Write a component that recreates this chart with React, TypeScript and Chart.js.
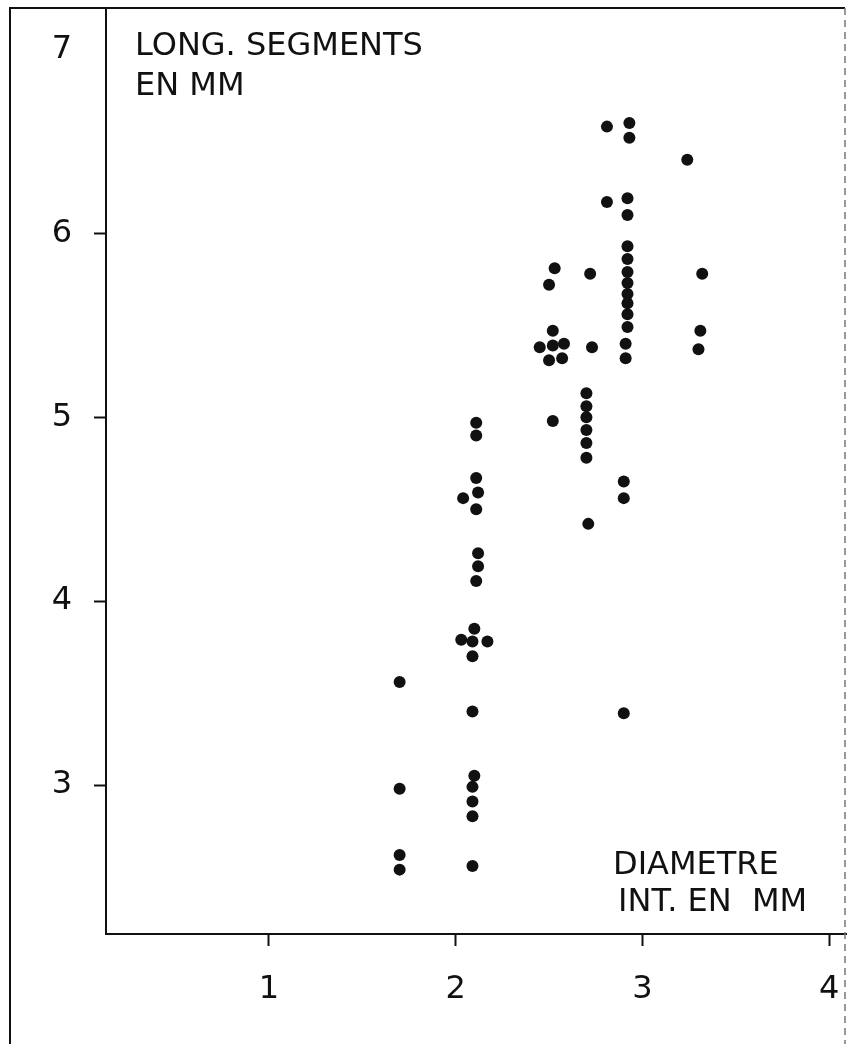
import React, { useEffect, useRef } from "react";
import { Chart, registerables } from "chart.js";

Chart.register(...registerables);

// Diameter intérieur (mm) — x values of the points
const diameterMm = [
  // ~1.7 mm
  1.70, 1.70, 1.70, 1.70,
  // ~2.1 mm
  2.11, 2.11, 2.11, 2.04, 2.12, 2.11, 2.12, 2.12, 2.11, 2.10, 2.03, 2.09, 2.17, 2.09, 2.09, 2.10, 2.09, 2.09, 2.09, 2.09,
  // ~2.5 mm
  2.53, 2.50, 2.52, 2.45, 2.52, 2.58, 2.50, 2.57, 2.52,
  // ~2.7 mm
  2.72, 2.73, 2.70, 2.70, 2.70, 2.70, 2.70, 2.70, 2.71,
  // ~2.8 mm
  2.81, 2.81,
  // ~2.9 mm
  2.93, 2.93, 2.92, 2.92, 2.92, 2.92, 2.92, 2.92, 2.92, 2.92, 2.92, 2.92, 2.91, 2.91, 2.90, 2.90, 2.90,
  // ~3.2-3.3 mm
  3.24, 3.32, 3.31, 3.30,
];

// Longueur des segments (mm) — y values of the points
const segmentLengthMm = [
  3.56, 2.98, 2.62, 2.54,
  4.97, 4.90, 4.67, 4.56, 4.59, 4.50, 4.26, 4.19, 4.11, 3.85, 3.79, 3.78, 3.78, 3.70, 3.40, 3.05, 2.99, 2.91, 2.83, 2.56,
  5.81, 5.72, 5.47, 5.38, 5.39, 5.40, 5.31, 5.32, 4.98,
  5.78, 5.38, 5.13, 5.06, 5.00, 4.93, 4.86, 4.78, 4.42,
  6.58, 6.17,
  6.60, 6.52, 6.19, 6.10, 5.93, 5.86, 5.79, 5.73, 5.67, 5.62, 5.56, 5.49, 5.40, 5.32, 4.65, 4.56, 3.39,
  6.40, 5.78, 5.47, 5.37,
];

const xTickValues = [1, 2, 3, 4];
const yTickValues = [3, 4, 5, 6, 7];
const yTitleLines = ["LONG. SEGMENTS", "EN MM"];
const xTitleLines = ["DIAMETRE", "INT. EN  MM"];

const INK = "#111111";
const FONT = "'DejaVu Sans', 'Liberation Sans', sans-serif";

const framePlugin = {
  id: "framePlugin",
  afterDraw(chart: any) {
    const ctx = chart.ctx as CanvasRenderingContext2D;
    const { top, right, bottom } = chart.chartArea;
    const H = chart.height;
    const W = chart.width;
    const frameRight = W - 2;
    ctx.save();
    ctx.strokeStyle = INK;
    ctx.lineWidth = 2;
    // outer left border
    ctx.beginPath();
    ctx.moveTo(10, 7);
    ctx.lineTo(10, H);
    ctx.stroke();
    // top border
    ctx.beginPath();
    ctx.moveTo(9, top);
    ctx.lineTo(frameRight, top);
    ctx.stroke();
    // x axis line continues to the page edge
    ctx.beginPath();
    ctx.moveTo(right - 1, bottom);
    ctx.lineTo(W, bottom);
    ctx.stroke();
    // right dashed border
    ctx.setLineDash([7, 5]);
    ctx.strokeStyle = "#777777";
    ctx.lineWidth = 1.5;
    ctx.beginPath();
    ctx.moveTo(frameRight, top);
    ctx.lineTo(frameRight, H);
    ctx.stroke();
    ctx.setLineDash([]);

    // titles
    ctx.fillStyle = INK;
    ctx.font = `32px ${FONT}`;
    ctx.textAlign = "left";
    ctx.textBaseline = "alphabetic";
    ctx.fillText(yTitleLines[0], 135, 55);
    ctx.fillText(yTitleLines[1], 135, 95);
    ctx.fillText(xTitleLines[0], 613, 874);
    ctx.fillText(xTitleLines[1], 618, 911);
    ctx.restore();
  },
};

const noPad = (scale: any) => {
  scale.paddingTop = 0;
  scale.paddingBottom = 0;
  scale.paddingLeft = 0;
  scale.paddingRight = 0;
};

export default function App() {
  const canvasRef = useRef<HTMLCanvasElement | null>(null);

  useEffect(() => {
    const canvas = canvasRef.current;
    if (!canvas) return;
    const points = diameterMm.map((x, i) => ({ x, y: segmentLengthMm[i] }));
    const chart = new Chart(canvas, {
      type: "scatter",
      data: {
        datasets: [
          {
            data: points,
            pointRadius: 6,
            pointHoverRadius: 6,
            pointBackgroundColor: INK,
            pointBorderWidth: 0,
            pointBorderColor: INK,
          },
        ],
      },
      plugins: [framePlugin],
      options: {
        animation: false,
        responsive: false,
        devicePixelRatio: 1,
        layout: { padding: { top: 8, right: 2, left: 0, bottom: 0 } },
        plugins: {
          legend: { display: false },
          tooltip: { enabled: false },
        },
        scales: {
          x: {
            type: "linear",
            min: 0.128,
            max: 4.063,
            afterBuildTicks: (scale: any) => {
              scale.ticks = xTickValues.map((v) => ({ value: v }));
            },
            afterFit: (scale: any) => {
              scale.height = 110;
              noPad(scale);
            },
            border: { display: true, color: INK, width: 2 },
            grid: {
              display: true,
              drawOnChartArea: false,
              drawTicks: true,
              tickLength: 12,
              tickWidth: 2,
              tickColor: INK,
            },
            ticks: {
              color: INK,
              font: { family: FONT, size: 32 },
              padding: 24,
              maxRotation: 0,
              autoSkip: false,
              callback: (v: any) => String(v),
            },
          },
          y: {
            type: "linear",
            min: 2.19,
            max: 7.225,
            afterBuildTicks: (scale: any) => {
              scale.ticks = yTickValues.map((v) => ({ value: v }));
            },
            afterFit: (scale: any) => {
              scale.width = 106;
              noPad(scale);
            },
            border: { display: true, color: INK, width: 2 },
            grid: {
              display: true,
              drawOnChartArea: false,
              drawTicks: true,
              tickLength: 12,
              tickWidth: 2,
              tickColor: (c: any) =>
                c.tick && c.tick.value === 7 ? "rgba(0,0,0,0)" : INK,
            },
            ticks: {
              color: INK,
              font: { family: FONT, size: 32 },
              padding: 22,
              autoSkip: false,
              callback: (v: any) => String(v),
            },
          },
        },
      },
    } as any);
    return () => chart.destroy();
  }, []);

  return (
    <div
      style={{
        position: "fixed",
        left: 0,
        top: 0,
        width: 847,
        height: 1044,
        background: "#ffffff",
      }}
    >
      <canvas ref={canvasRef} width={847} height={1044} style={{ display: "block" }} />
    </div>
  );
}
